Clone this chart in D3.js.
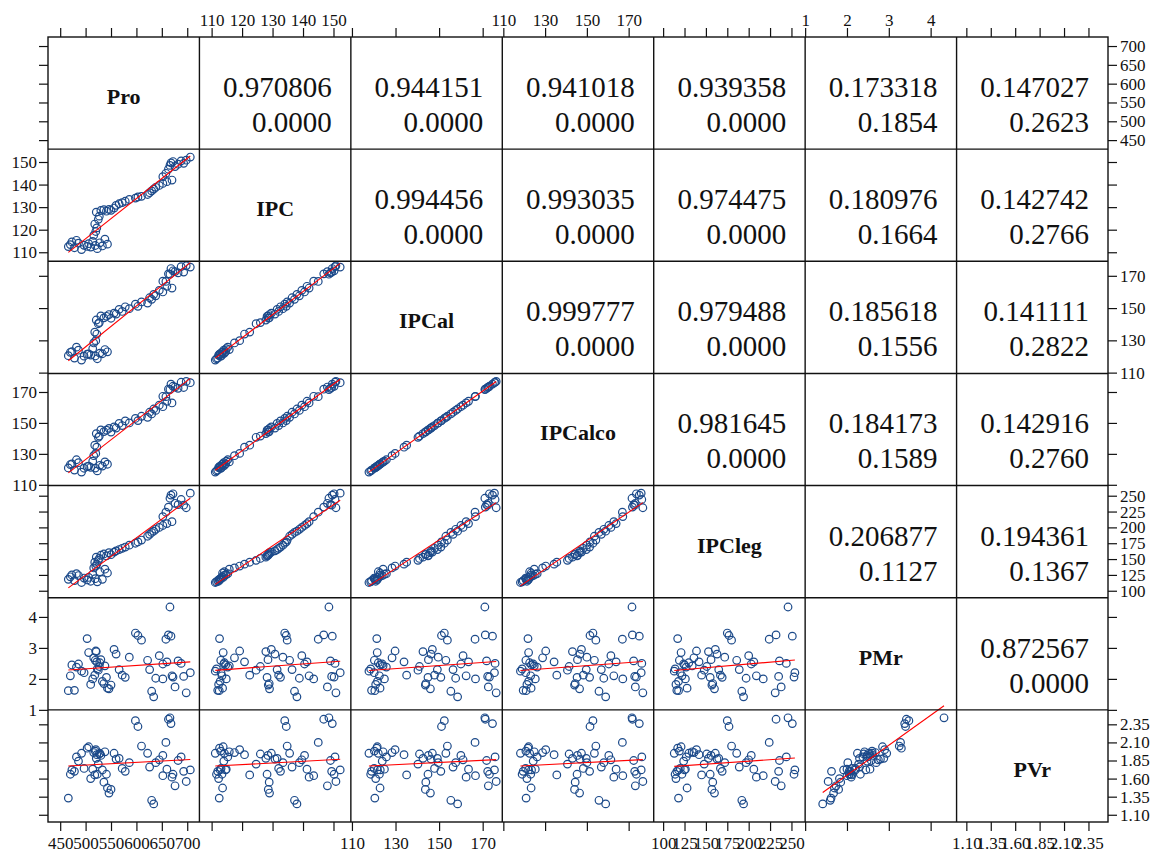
<!DOCTYPE html>
<html>
<head>
<meta charset="utf-8">
<script src="https://cdn.jsdelivr.net/npm/d3@7"></script>
<style>
  body { margin: 0; background: #fff; }
  svg { display: block; }
</style>
</head>
<body>
<div id="wrapper"></div>
<script>
// data

const varNames = ["Pro", "IPC", "IPCal", "IPCalco", "IPCleg", "PMr", "PVr"];

const pro = [466, 470, 473, 478, 482, 486, 492, 497, 503, 506, 510, 514, 519, 523, 528, 533, 538, 543,
  516, 520, 522, 518, 525, 527, 521, 530, 536, 541, 546, 550,
  556, 560, 566, 572, 578, 586, 598, 603, 610,
  622, 626, 630, 634, 638, 645, 652, 660, 670,
  652, 658, 663, 666, 668, 672, 676, 682, 688, 693, 698, 706];

const ipc = [112.5, 113.4, 114.6, 112.0, 115.3, 114.0, 111.2, 113.1, 112.6, 113.8, 112.3, 114.8, 113.0, 111.6, 114.2, 112.8, 115.8, 113.6,
  117.5, 119.2, 120.8, 122.5, 124.6, 126.0, 127.8, 128.5, 128.9, 128.2, 129.0, 128.6,
  129.6, 130.8, 131.5, 132.0, 132.6, 133.4, 134.0, 134.5, 134.8,
  135.6, 136.4, 137.2, 138.0, 138.8, 139.6, 140.5, 141.3, 142.0,
  143.5, 145.0, 146.8, 148.5, 149.6, 150.2, 148.0, 149.0, 150.5, 149.4, 150.8, 152.2];

const ipcal = [120.5, 122.6, 123.0, 119.0, 125.8, 123.9, 117.8, 120.2, 121.4, 121.6, 120.9, 124.9, 120.3, 118.6, 122.1, 121.7, 124.3, 122.9,
  128.4, 129.8, 133.9, 135.1, 140.3, 141.0, 142.6, 145.1, 143.9, 144.9, 146.0, 143.7,
  146.9, 146.3, 149.2, 147.9, 150.8, 149.6, 152.4, 151.1, 153.8,
  153.1, 156.4, 155.4, 158.5, 157.6, 161.0, 160.0, 163.5, 162.4,
  166.7, 166.5, 171.2, 171.0, 174.5, 173.1, 172.6, 171.8, 175.7, 172.3, 176.2, 175.4];

const ipcalco = [120.9, 123.1, 123.5, 119.5, 126.2, 124.3, 118.2, 120.7, 121.8, 122.1, 121.3, 125.3, 120.8, 119.0, 122.6, 122.1, 124.8, 123.3,
  128.8, 130.3, 134.3, 135.6, 140.7, 141.5, 143.1, 145.5, 144.4, 145.3, 146.5, 144.1,
  147.4, 146.7, 149.7, 148.3, 151.3, 150.0, 152.9, 151.5, 154.3,
  153.6, 156.9, 155.8, 159.0, 158.1, 161.5, 160.5, 164.0, 162.9,
  167.2, 167.0, 171.8, 171.6, 175.1, 173.7, 173.2, 172.4, 176.3, 172.9, 176.8, 176.0];

const ipcleg = [118, 122, 125, 116, 127, 124, 113, 120, 117, 121, 115, 126, 119, 114, 130, 118, 134, 128,
  136, 139, 142, 145, 148, 151, 153, 156, 158, 155, 160, 157,
  161, 163, 165, 167, 169, 172, 175, 177, 180,
  186, 189, 192, 194, 197, 200, 203, 206, 209,
  217, 224, 232, 246, 251, 253, 238, 236, 244, 235, 231, 254];

const pmr = [1.62, 2.10, 2.45, 1.63, 2.38, 2.48, 2.25, 2.20, 3.30, 2.85, 1.82, 2.00, 2.60, 2.32, 2.52, 1.92, 2.42, 1.70,
  2.68, 2.90, 2.55, 2.12, 2.28, 2.40, 2.88, 2.62, 1.85, 2.05, 1.68, 1.80,
  2.95, 2.80, 2.30, 2.12, 2.05, 2.70, 3.48, 3.40, 3.25,
  2.60, 2.30, 1.60, 1.42, 2.02, 2.75, 2.48, 2.55, 2.10,
  2.00, 3.28, 3.42, 4.32, 3.38, 2.06, 1.74, 2.58, 2.50, 2.08, 1.55, 2.20];

const pvr = [1.33, 1.66, 1.72, 1.70, 1.90, 1.84, 1.95, 1.74, 2.02, 2.04, 1.60, 1.73, 1.98, 1.66, 1.95, 1.72, 1.97, 1.47,
  1.96, 2.00, 1.93, 1.65, 1.80, 1.94, 1.88, 1.92, 1.55, 1.66, 1.40, 1.45,
  1.95, 1.87, 1.88, 1.74, 1.70, 1.82, 2.40, 2.32, 2.05,
  1.95, 1.76, 1.30, 1.25, 1.82, 1.86, 1.92, 1.73, 1.62,
  1.64, 2.10, 2.42, 2.44, 2.36, 1.66, 1.50, 1.85, 1.90, 1.70, 1.56, 1.72];

// tick labels
const proTicks = [450, 500, 550, 600, 650, 700];
const ipcTicks = [110, 120, 130, 140, 150];
const ipcalTicks = [110, 130, 150, 170];
const ipcalcoTicks = [110, 130, 150, 170];
const ipclegTicks = [100, 125, 150, 175, 200, 225, 250];
const pmrTicks = [1, 2, 3, 4];
const pvrTicks = [1.10, 1.35, 1.60, 1.85, 2.10, 2.35];

// correlation coefficients and p-values, upper triangle, row by row
const rValues = ["0.970806", "0.944151", "0.941018", "0.939358", "0.173318", "0.147027",
  "0.994456", "0.993035", "0.974475", "0.180976", "0.142742",
  "0.999777", "0.979488", "0.185618", "0.141111",
  "0.981645", "0.184173", "0.142916",
  "0.206877", "0.194361",
  "0.872567"];
const pValues = ["0.0000", "0.0000", "0.0000", "0.0000", "0.1854", "0.2623",
  "0.0000", "0.0000", "0.0000", "0.1664", "0.2766",
  "0.0000", "0.0000", "0.1556", "0.2822",
  "0.0000", "0.1589", "0.2760",
  "0.1127", "0.1367",
  "0.0000"];

const series = [pro, ipc, ipcal, ipcalco, ipcleg, pmr, pvr];
const tickSets = [proTicks, ipcTicks, ipcalTicks, ipcalcoTicks, ipclegTicks, pmrTicks, pvrTicks];
const domains = [[426, 724], [106, 155.7], [109.5, 179], [109.5, 182], [89, 266], [1, 4.62], [1, 2.55]];
const formats = [d3.format("d"), d3.format("d"), d3.format("d"), d3.format("d"), d3.format("d"), d3.format("d"), d3.format(".2f")];

// dimensions

const dms = { width: 1155, height: 854, left: 48, top: 37, right: 1108, bottom: 822 };
const nv = varNames.length;
const cw = (dms.right - dms.left) / nv;
const ch = (dms.bottom - dms.top) / nv;
const tickLen = 9;
const serif = "'Liberation Serif', 'Times New Roman', serif";
const pointColor = "#1c4a8a";

const svg = d3.select("#wrapper")
  .append("svg")
    .attr("width", dms.width)
    .attr("height", dms.height);

const xScales = domains.map(d => d3.scaleLinear().domain(d).range([0, cw]));
const yScales = domains.map(d => d3.scaleLinear().domain(d).range([ch, 0]));

function fit(xs, ys) {
  const mx = d3.mean(xs), my = d3.mean(ys);
  const b = d3.sum(xs, (x, i) => (x - mx) * (ys[i] - my)) / d3.sum(xs, x => (x - mx) ** 2);
  return [b, my - b * mx];
}

// cells

let k = 0;
for (let r = 0; r < nv; r++) {
  for (let c = 0; c < nv; c++) {
    const g = svg.append("g")
      .attr("transform", `translate(${dms.left + c * cw},${dms.top + r * ch})`);

    if (r === c) {
      g.append("text")
        .attr("x", cw / 2)
        .attr("y", ch / 2 + 11)
        .attr("text-anchor", "middle")
        .style("font-family", serif)
        .style("font-weight", "bold")
        .style("font-size", "22px")
        .attr("fill", "#111")
        .text(varNames[r]);
    } else if (r < c) {
      g.append("text")
        .attr("x", cw - 19)
        .attr("y", 60)
        .attr("text-anchor", "end")
        .style("font-family", serif)
        .style("font-size", "29px")
        .attr("fill", "#111")
        .text(rValues[k]);
      g.append("text")
        .attr("x", cw - 19)
        .attr("y", 95)
        .attr("text-anchor", "end")
        .style("font-family", serif)
        .style("font-size", "29px")
        .attr("fill", "#111")
        .text(pValues[k]);
      k++;
    } else {
      const xs = series[c], ys = series[r];
      const xS = xScales[c], yS = yScales[r];
      g.selectAll("circle")
        .data(xs)
        .join("circle")
          .attr("cx", d => xS(d))
          .attr("cy", (d, i) => yS(ys[i]))
          .attr("r", 3.8)
          .attr("fill", "none")
          .attr("stroke", pointColor)
          .attr("stroke-width", 1.2);
      const [b, a] = fit(xs, ys);
      const [x0, x1] = d3.extent(xs);
      g.append("line")
        .attr("x1", xS(x0))
        .attr("y1", yS(a + b * x0))
        .attr("x2", xS(x1))
        .attr("y2", yS(a + b * x1))
        .attr("stroke", "#ff0000")
        .attr("stroke-width", 1.1);
    }
  }
}

// axes

function styleAxis(sel) {
  sel.select(".domain").remove();
  sel.selectAll(".tick line").attr("stroke", "#111").attr("stroke-width", 1.2);
  sel.selectAll(".tick text")
    .attr("fill", "#111")
    .style("font-family", serif)
    .style("font-size", "17px");
}

for (let i = 0; i < nv; i++) {
  const fmt = formats[i];
  const xS = xScales[i].copy().range([dms.left + i * cw, dms.left + (i + 1) * cw]);
  const yS = yScales[i].copy().range([dms.top + (i + 1) * ch, dms.top + i * ch]);
  const odd = i % 2 === 1;

  svg.append("g")
    .attr("transform", `translate(0,${dms.top})`)
    .call(d3.axisTop(xS).tickValues(tickSets[i]).tickSize(tickLen).tickPadding(2)
      .tickFormat(odd ? fmt : () => ""))
    .call(styleAxis);

  svg.append("g")
    .attr("transform", `translate(0,${dms.bottom})`)
    .call(d3.axisBottom(xS).tickValues(tickSets[i]).tickSize(tickLen).tickPadding(6)
      .tickFormat(odd ? () => "" : fmt))
    .call(styleAxis);

  svg.append("g")
    .attr("transform", `translate(${dms.left},0)`)
    .call(d3.axisLeft(yS).tickValues(tickSets[i]).tickSize(tickLen).tickPadding(2)
      .tickFormat(odd ? fmt : () => ""))
    .call(styleAxis);

  svg.append("g")
    .attr("transform", `translate(${dms.right},0)`)
    .call(d3.axisRight(yS).tickValues(tickSets[i]).tickSize(tickLen).tickPadding(3)
      .tickFormat(odd ? () => "" : fmt))
    .call(styleAxis);
}

// frame and cell borders

const frame = svg.append("g")
  .attr("stroke", "#111")
  .attr("stroke-width", 1.4)
  .attr("fill", "none");

frame.append("rect")
  .attr("x", dms.left)
  .attr("y", dms.top)
  .attr("width", dms.right - dms.left)
  .attr("height", dms.bottom - dms.top);

frame.selectAll("line.v")
  .data(d3.range(1, nv))
  .join("line")
    .attr("class", "v")
    .attr("x1", d => dms.left + d * cw)
    .attr("x2", d => dms.left + d * cw)
    .attr("y1", dms.top)
    .attr("y2", dms.bottom);

frame.selectAll("line.h")
  .data(d3.range(1, nv))
  .join("line")
    .attr("class", "h")
    .attr("x1", dms.left)
    .attr("x2", dms.right)
    .attr("y1", d => dms.top + d * ch)
    .attr("y2", d => dms.top + d * ch);
</script>
</body>
</html>
